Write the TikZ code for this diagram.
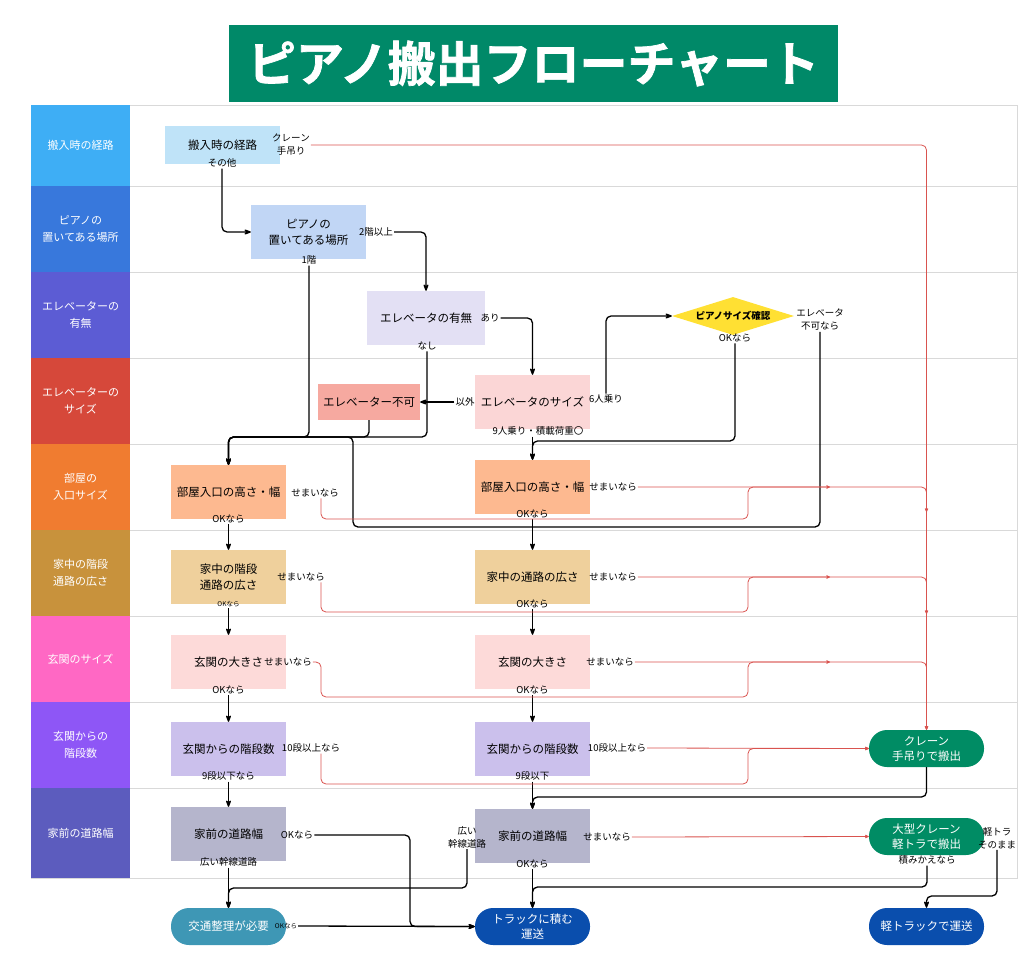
\documentclass[tikz,border=0pt]{standalone}
\usepackage{fontspec}
\setmainfont{Noto Sans CJK JP}
\newfontfamily\titlefont[UprightFont={* Bold}, FakeBold=1.5]{Noto Sans CJK JP}
\usepackage{xcolor}
\usepackage{tikz}
\usetikzlibrary{arrows.meta,shapes.geometric}

\definecolor{titlegreen}{RGB}{0,137,104}
\definecolor{laneA}{RGB}{62,174,245}
\definecolor{laneB}{RGB}{56,120,220}
\definecolor{laneC}{RGB}{92,92,212}
\definecolor{laneD}{RGB}{214,72,58}
\definecolor{laneE}{RGB}{240,124,48}
\definecolor{laneF}{RGB}{200,146,60}
\definecolor{laneG}{RGB}{255,104,196}
\definecolor{laneH}{RGB}{142,86,246}
\definecolor{laneI}{RGB}{92,92,190}
\definecolor{fillroute}{RGB}{191,227,248}
\definecolor{fillplace}{RGB}{193,214,245}
\definecolor{fillelev}{RGB}{227,224,244}
\definecolor{fillsize}{RGB}{251,214,214}
\definecolor{fillng}{RGB}{246,169,160}
\definecolor{fillcheck}{RGB}{255,224,51}
\definecolor{fillroom}{RGB}{253,185,144}
\definecolor{fillhall}{RGB}{239,208,156}
\definecolor{fillentr}{RGB}{253,218,217}
\definecolor{fillstep}{RGB}{203,192,236}
\definecolor{fillroad}{RGB}{181,181,204}
\definecolor{endteal}{RGB}{62,151,181}
\definecolor{endblue}{RGB}{10,78,173}
\definecolor{endgreen}{RGB}{0,140,100}
\definecolor{redline}{RGB}{217,83,79}

\begin{document}
\begin{tikzpicture}[x=1pt, y=-1pt, >={Stealth[round]},
        lanebox/.style={rectangle, minimum width=99pt, text=white, align=center, inner sep=0pt, font=\fontsize{11}{16.5}\selectfont},
        stepbox/.style={rectangle, minimum width=115pt, minimum height=54pt, align=center, inner sep=0pt, font=\fontsize{11.5}{16}\selectfont},
        endpill/.style={rectangle, rounded corners=18pt, minimum width=115pt, minimum height=37pt, text=white, align=center, inner sep=0pt, font=\fontsize{11.5}{15}\selectfont},
        tag/.style={inner sep=1pt, align=center, font=\fontsize{9.5}{13}\selectfont},
        flow/.style={->, line width=1.3pt, rounded corners=5pt},
        crane/.style={-{Stealth[round,length=5pt,width=4.5pt]}, redline, line width=0.8pt, rounded corners=5pt}]
                \useasboundingbox (0,0) rectangle (1024,971);

                % Title
                \node[fill=titlegreen, minimum width=609pt, minimum height=77pt, text=white, font=\fontsize{48}{52}\titlefont] (title) at (533.5,63.5) {ピアノ搬出フローチャート};

                % Lanes
                \draw[black!15] (31,105) rectangle (1017,878);
                \draw[black!15] (130,186) -- (1017,186);
                \draw[black!15] (130,272) -- (1017,272);
                \draw[black!15] (130,358) -- (1017,358);
                \draw[black!15] (130,444) -- (1017,444);
                \draw[black!15] (130,530) -- (1017,530);
                \draw[black!15] (130,616) -- (1017,616);
                \draw[black!15] (130,702) -- (1017,702);
                \draw[black!15] (130,788) -- (1017,788);
                \node[lanebox, fill=laneA, minimum height=81pt] (lane1) at (80.5,145.5) {搬入時の経路};
                \node[lanebox, fill=laneB, minimum height=86pt] (lane2) at (80.5,229) {ピアノの\\置いてある場所};
                \node[lanebox, fill=laneC, minimum height=86pt] (lane3) at (80.5,315) {エレベーターの\\有無};
                \node[lanebox, fill=laneD, minimum height=86pt] (lane4) at (80.5,401) {エレベーターの\\サイズ};
                \node[lanebox, fill=laneE, minimum height=86pt] (lane5) at (80.5,487) {部屋の\\入口サイズ};
                \node[lanebox, fill=laneF, minimum height=86pt] (lane6) at (80.5,573) {家中の階段\\通路の広さ};
                \node[lanebox, fill=laneG, minimum height=86pt] (lane7) at (80.5,659) {玄関のサイズ};
                \node[lanebox, fill=laneH, minimum height=86pt] (lane8) at (80.5,745) {玄関からの\\階段数};
                \node[lanebox, fill=laneI, minimum height=90pt] (lane9) at (80.5,833) {家前の道路幅};

                % Upper steps
                \node[stepbox, fill=fillroute, minimum height=38pt] (route) at (222.5,145) {搬入時の経路};
                \node[stepbox, fill=fillplace] (place) at (308.5,232) {ピアノの\\置いてある場所};
                \node[stepbox, fill=fillelev, minimum width=118pt] (elev) at (426,318) {エレベータの有無};
                \node[stepbox, fill=fillsize] (esize) at (532.5,402) {エレベータのサイズ};
                \node[stepbox, fill=fillng, minimum width=102pt, minimum height=36pt] (eng) at (369,402) {エレベーター不可};
                \node[diamond, aspect=3.2, fill=fillcheck, inner sep=0pt, minimum width=122pt, minimum height=38pt, font=\fontsize{9.5}{12}\selectfont\bfseries] (check) at (733,316) {ピアノサイズ確認};

                % Left column
                \node[stepbox, fill=fillroom] (room1) at (228.5,492) {部屋入口の高さ・幅};
                \node[stepbox, fill=fillhall] (hall1) at (228.5,577) {家中の階段\\通路の広さ};
                \node[stepbox, fill=fillentr] (entr1) at (228.5,662) {玄関の大きさ};
                \node[stepbox, fill=fillstep] (stair1) at (228.5,749) {玄関からの階段数};
                \node[stepbox, fill=fillroad] (road1) at (228.5,834) {家前の道路幅};

                % Right column
                \node[stepbox, fill=fillroom] (room2) at (532.5,487) {部屋入口の高さ・幅};
                \node[stepbox, fill=fillhall] (hall2) at (532.5,577) {家中の通路の広さ};
                \node[stepbox, fill=fillentr] (entr2) at (532.5,662) {玄関の大きさ};
                \node[stepbox, fill=fillstep] (stair2) at (532.5,749) {玄関からの階段数};
                \node[stepbox, fill=fillroad] (road2) at (532.5,836) {家前の道路幅};

                % End points
                \node[endpill, fill=endteal] (traffic) at (228.5,926.5) {交通整理が必要};
                \node[endpill, fill=endblue] (truck) at (532.5,926.5) {トラックに積む\\運送};
                \node[endpill, fill=endblue] (light) at (926.5,926.5) {軽トラックで運送};
                \node[endpill, fill=endgreen] (crane) at (926.5,748.5) {クレーン\\手吊りで搬出};
                \node[endpill, fill=endgreen] (bigcrane) at (926.5,836.5) {大型クレーン\\軽トラで搬出};

                % Branch labels
                \node[tag] (routeCr) at (291,145) {クレーン\\手吊り};
                \node[tag] (routeEt) at (222,163) {その他};
                \node[tag] (placeUp) at (376,232) {2階以上};
                \node[tag] (place1F) at (309,260) {1階};
                \node[tag] (elevYes) at (490,318) {あり};
                \node[tag] (elevNo) at (427,346) {なし};
                \node[tag] (sizeEtc) at (465,402) {以外};
                \node[tag] (size6) at (606,399) {6人乗り};
                \node[tag] (size9) at (538,431) {9人乗り・積載荷重〇};
                \node[tag] (checkOK) at (735,338) {OKなら};
                \node[tag] (checkNG) at (820,320) {エレベータ\\不可なら};
                \node[tag] (room1NG) at (315,493) {せまいなら};
                \node[tag] (room1OK) at (228.5,519) {OKなら};
                \node[tag] (room2NG) at (613,487) {せまいなら};
                \node[tag] (room2OK) at (532.5,514) {OKなら};
                \node[tag] (hall1NG) at (301,577) {せまいなら};
                \node[tag, font=\fontsize{6.5}{8}\selectfont] (hall1OK) at (228.5,604) {OKなら};
                \node[tag] (hall2NG) at (613,577) {せまいなら};
                \node[tag] (hall2OK) at (532.5,604) {OKなら};
                \node[tag] (entr1NG) at (288,662) {せまいなら};
                \node[tag] (entr1OK) at (228.5,690) {OKなら};
                \node[tag] (entr2NG) at (610,662) {せまいなら};
                \node[tag] (entr2OK) at (532.5,690) {OKなら};
                \node[tag] (stair1NG) at (311,748) {10段以上なら};
                \node[tag] (stair1OK) at (228.5,776) {9段以下なら};
                \node[tag] (stair2NG) at (617,748) {10段以上なら};
                \node[tag] (stair2OK) at (532.5,776) {9段以下};
                \node[tag] (road1OK) at (297,835) {OKなら};
                \node[tag] (road1Wide) at (228.5,862) {広い幹線道路};
                \node[tag] (road2Wide) at (467,837) {広い\\幹線道路};
                \node[tag] (road2NG) at (607,837) {せまいなら};
                \node[tag] (road2OK) at (532.5,864) {OKなら};
                \node[tag, font=\fontsize{6.5}{8}\selectfont] (trafficOK) at (286,926) {OKなら};
                \node[tag] (bigLoad) at (927,860) {積みかえなら};
                \node[tag] (bigStay) at (997,838) {軽トラ\\そのまま};

                % Junctions
                \coordinate (mergeL) at (228.5,437);
                \coordinate (loopB) at (353,527);
                \coordinate (mergeR) at (532.5,441);
                \coordinate (bendA) at (748,519);
                \coordinate (bendB) at (748,612);
                \coordinate (bendC) at (748,697);
                \coordinate (bendD) at (748,784);
                \coordinate (bendE) at (321,697);
                \coordinate (tipA) at (830,487);
                \coordinate (tipB) at (830,577);
                \coordinate (tipC) at (830,662);
                \coordinate (joinA) at (926.5,512);
                \coordinate (joinB) at (926.5,614);
                \coordinate (joinC) at (532.5,797);
                \coordinate (joinT) at (228.5,888);
                \coordinate (dropK) at (410,900);
                \coordinate (joinU) at (532.5,887);
                \coordinate (joinV) at (926.5,896);

                % Upper flow
                \draw[flow] (routeEt.south) |- (place.west);
                \draw[flow] (placeUp.east) -| (elev.north);
                \draw[flow] (elevYes.east) -| (esize.north);
                \draw[flow] (sizeEtc.west) -- (eng.east);
                \draw[flow] (size6.north) |- (check.west);
                \draw[flow] (room2.north |- size9.south) -- (room2.north);
                \draw[flow] (checkOK.south) |- (mergeR) -- (room2.north);
                \draw[flow] (place1F.south) |- (mergeL) -- (room1.north);
                \draw[flow] (eng.south) |- (mergeL) -- (room1.north);
                \draw[flow] (elevNo.south) |- (mergeL) -- (room1.north);
                \draw[flow] (checkNG.south) |- (loopB) |- (mergeL) -- (room1.north);

                % Columns
                \draw[flow] (room1OK.south) -- (hall1.north);
                \draw[flow] (hall1OK.south) -- (entr1.north);
                \draw[flow] (entr1OK.south) -- (stair1.north);
                \draw[flow] (stair1OK.south) -- (road1.north);
                \draw[flow] (room2OK.south) -- (hall2.north);
                \draw[flow] (hall2OK.south) -- (entr2.north);
                \draw[flow] (entr2OK.south) -- (stair2.north);
                \draw[flow] (stair2OK.south) -- (road2.north);
                \draw[flow] (crane.south) |- (joinC) -- (road2.north);

                % Lower flow
                \draw[flow] (road1Wide.south) -- (traffic.north);
                \draw[flow] (road2Wide.south) |- (joinT) -- (traffic.north);
                \draw[flow] (road1OK.east) -| (dropK) |- (truck.west);
                \draw[flow] (trafficOK.east) -- (truck.west);
                \draw[flow] (road2OK.south) -- (truck.north);
                \draw[flow] (bigLoad.south) |- (joinU) -- (truck.north);
                \draw[flow] (bigStay.south) |- (joinV) -- (light.north);

                % Crane routes
                \draw[crane] (routeCr.east) -| (crane.north);
                \draw[crane] ([xshift=6pt]room1NG.south) |- (bendA) |- (tipA);
                \draw[crane] (room2NG.east) -| (joinA);
                \draw[crane] ([xshift=-5pt]hall1NG.south east) |- (bendB) |- (tipB);
                \draw[crane] (hall2NG.east) -| (joinB);
                \draw[crane] (entr1NG.east) -| (bendE) -- (bendC) |- (tipC);
                \draw[crane] (entr2NG.east) -| (crane.north);
                \draw[crane] ([xshift=10pt]stair1NG.south) |- (bendD) |- (crane.west);
                \draw[crane] (stair2NG.east) -- (crane.west);
                \draw[crane] (road2NG.east) -- (bigcrane.west);
            \end{tikzpicture}
\end{document}
